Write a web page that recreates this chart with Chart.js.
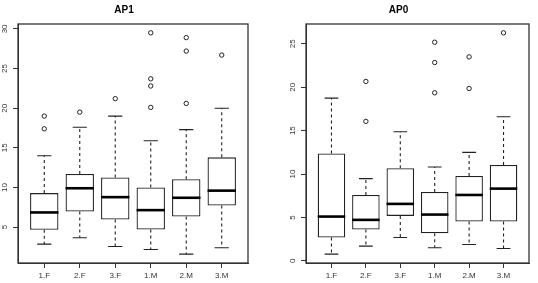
<!DOCTYPE html>
<html><head><meta charset="utf-8">
<script src="https://cdn.jsdelivr.net/npm/chart.js@4/dist/chart.umd.min.js"></script>
<style>
html,body{margin:0;padding:0;background:#fff;width:538px;height:283px;overflow:hidden}
.p{position:absolute;top:0;height:283px}
</style></head><body>
<div class="p" style="left:0;width:268px"><canvas id="c1" width="268" height="283"></canvas></div>
<div class="p" style="left:268px;width:270px"><canvas id="c2" width="270" height="283"></canvas></div>
<script>
const categories = ['1.F','2.F','3.F','1.M','2.M','3.M'];

// AP1 panel
const ap1Low  = [2.85, 3.65, 2.55, 2.18, 1.59, 2.39];
const ap1Q1   = [4.66, 6.97, 5.96, 4.70, 6.34, 7.73];
const ap1Med  = [6.85, 9.90, 8.78, 7.14, 8.70, 9.60];
const ap1Q3   = [9.29, 11.70, 11.27, 10.00, 11.05, 13.80];
const ap1High = [14.0, 17.6, 19.0, 15.9, 17.3, 20.0];
const ap1Out  = [[19.0, 17.4], [19.5], [21.2], [29.5, 23.7, 22.8, 20.1], [28.9, 27.2, 20.6], [26.7]];
const ap1Ticks = [5, 10, 15, 20, 25, 30];

// AP0 panel
const ap0Low  = [0.77, 1.69, 2.68, 1.50, 1.88, 1.42];
const ap0Q1   = [2.68, 3.60, 5.18, 3.18, 4.52, 4.52];
const ap0Med  = [5.10, 4.72, 6.56, 5.33, 7.59, 8.32];
const ap0Q3   = [12.38, 7.59, 10.66, 7.94, 9.78, 11.04];
const ap0High = [18.75, 9.47, 14.88, 10.81, 12.50, 16.60];
const ap0Out  = [[], [20.67, 16.07], [], [25.19, 22.85, 19.36], [23.50, 19.86], [26.27]];
const ap0Ticks = [0, 5, 10, 15, 20, 25];

const INK = '#222';
const FONT = "'Liberation Sans', Arial, sans-serif";

function makeChart(id, title, low, q1, med, q3, high, out, yTicks, yWidth, padRight) {
  const all = low.concat(high, out.flat());
  const lo = Math.min(...all), hi = Math.max(...all);
  const ext = (hi - lo) * 0.04;
  const n = categories.length;
  const xext = n * 0.04;

  const boxData = categories.map((c, i) => ({x: i + 1, y: [q1[i], q3[i]]}));
  const outData = [];
  out.forEach((arr, i) => arr.forEach(v => outData.push({x: i + 1, y: v})));

  const partsPlugin = {
    id: 'boxparts',
    afterDatasetsDraw(chart) {
      const {ctx, scales: {x, y}, chartArea: a} = chart;
      const meta = chart.getDatasetMeta(0);
      ctx.save();
      categories.forEach((c, i) => {
        const bar = meta.data[i];
        const w = bar.width;
        const cx = x.getPixelForValue(i + 1);
        const yq1 = y.getPixelForValue(q1[i]), yq3 = y.getPixelForValue(q3[i]);
        const yl = y.getPixelForValue(low[i]), yh = y.getPixelForValue(high[i]);
        const ym = y.getPixelForValue(med[i]);
        ctx.strokeStyle = INK; ctx.lineWidth = 1.1;
        ctx.setLineDash([3, 3]);
        ctx.beginPath();
        ctx.moveTo(cx, yq3); ctx.lineTo(cx, yh);
        ctx.moveTo(cx, yq1); ctx.lineTo(cx, yl);
        ctx.stroke();
        ctx.setLineDash([]);
        ctx.beginPath();
        ctx.moveTo(cx - w / 4, yh); ctx.lineTo(cx + w / 4, yh);
        ctx.moveTo(cx - w / 4, yl); ctx.lineTo(cx + w / 4, yl);
        ctx.stroke();
        ctx.strokeStyle = '#000'; ctx.lineWidth = 2.6;
        ctx.beginPath();
        ctx.moveTo(cx - w / 2, ym); ctx.lineTo(cx + w / 2, ym);
        ctx.stroke();
      });
      ctx.strokeStyle = '#333'; ctx.lineWidth = 1.3;
      ctx.strokeRect(a.left, a.top, a.right - a.left, a.bottom - a.top);
      ctx.fillStyle = '#333';
      ctx.font = '8px ' + FONT;
      ctx.textAlign = 'center'; ctx.textBaseline = 'middle';
      y.ticks.forEach(t => {
        ctx.save();
        ctx.translate(a.left - 13, y.getPixelForValue(t.value));
        ctx.rotate(-Math.PI / 2);
        ctx.fillText(String(t.value), 0, 0);
        ctx.restore();
      });
      ctx.restore();
    }
  };

  return new Chart(document.getElementById(id), {
    type: 'bar',
    data: {
      datasets: [
        {
          type: 'bar', data: boxData,
          backgroundColor: '#fff', borderColor: INK, borderWidth: 1.3,
          borderSkipped: false, categoryPercentage: 1, barPercentage: 0.8
        },
        {
          type: 'scatter', data: outData, showLine: false,
          pointStyle: 'circle', pointRadius: 2.2, pointBorderWidth: 1,
          pointBorderColor: INK, pointBackgroundColor: 'rgba(0,0,0,0)'
        }
      ]
    },
    options: {
      responsive: false, animation: false, devicePixelRatio: 1,
      layout: {padding: {left: 0, right: padRight, top: 0, bottom: 0}},
      plugins: {
        legend: {display: false}, tooltip: {enabled: false},
        title: {
          display: true, text: title, color: '#000',
          font: {family: FONT, size: 10, weight: 'bold'},
          padding: {top: 4, bottom: 8}
        }
      },
      scales: {
        x: {
          type: 'linear', offset: false, min: 0.5 - xext, max: n + 0.5 + xext,
          afterBuildTicks: s => { s.ticks = categories.map((c, i) => ({value: i + 1})); },
          afterFit: s => { s.height = 20; },
          ticks: {
            autoSkip: false, maxRotation: 0, padding: 3, color: '#333',
            font: {family: FONT, size: 8},
            callback: v => categories[v - 1]
          },
          grid: {offset: false, drawOnChartArea: false, drawTicks: true, tickLength: 5, color: '#333'},
          border: {display: true, color: '#333'}
        },
        y: {
          type: 'linear', min: lo - ext, max: hi + ext,
          afterBuildTicks: s => { s.ticks = yTicks.map(v => ({value: v})); },
          afterFit: s => { s.width = yWidth; },
          ticks: {display: false},
          grid: {drawOnChartArea: false, drawTicks: true, tickLength: 5, color: '#333'},
          border: {display: true, color: '#333'}
        }
      }
    },
    plugins: [partsPlugin]
  });
}

makeChart('c1', 'AP1', ap1Low, ap1Q1, ap1Med, ap1Q3, ap1High, ap1Out, ap1Ticks, 18, 20);
makeChart('c2', 'AP0', ap0Low, ap0Q1, ap0Med, ap0Q3, ap0High, ap0Out, ap0Ticks, 38, 9);
</script>
</body></html>
